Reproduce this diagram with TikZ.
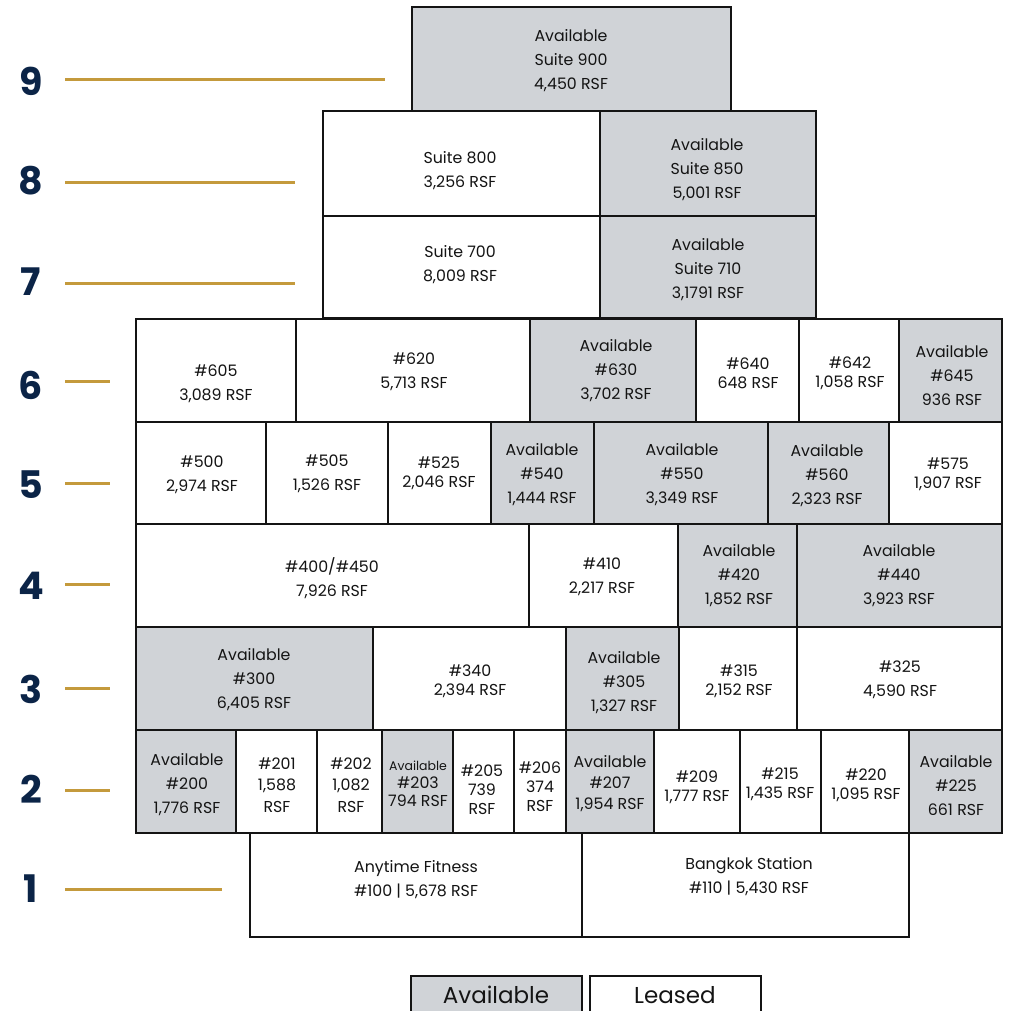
\documentclass[tikz,border=0pt]{standalone}
\usepackage{fontspec}
\setmainfont{Poppins}
\definecolor{availgray}{HTML}{D0D3D7}
\definecolor{navy}{HTML}{0B2447}
\definecolor{gold}{HTML}{C49A3C}
\definecolor{ink}{HTML}{141414}

\begin{document}
\begin{tikzpicture}[x=1pt,y=-1pt,
  leased/.style={draw=ink,line width=2pt,fill=white},
  avail/.style={leased,fill=availgray},
  lbl/.style={align=center,text=ink,inner sep=0pt,font=\fontsize{15.8}{24}\selectfont},
  tight/.style={lbl,font=\fontsize{15.8}{19}\selectfont},
  flr/.style={text=navy,inner sep=0pt,font=\fontsize{38}{38}\bfseries\selectfont},
  tick/.style={gold,line width=3pt},
  key/.style={text=ink,inner sep=0pt,font=\fontsize{23}{23}\selectfont}]
  \useasboundingbox (0,0) rectangle (1011,1010);

  % floor numbers and gold markers
  \foreach \n/\y/\ly/\xe in {9/81/79/385, 8/181/182/295, 7/282/283/295, 6/385/381/110,
      5/485/483/110, 4/586/584/110, 3/689/688/110, 2/789/790/110, 1/889/889/222} {
    \node[flr] (f\n) at (31,\y) {\n};
    \coordinate (ga\n) at (65,\ly);
    \coordinate (gb\n) at (\xe,\ly);
    \draw[tick] (ga\n) -- (gb\n);
  }

  % floor 9
  \draw[avail] (412,7) rectangle (731,111) node[lbl] (s900) at (571,61) {Available\\Suite 900\\4,450 RSF};
  % floor 8
  \draw[leased] (323,111) rectangle (600,216) node[lbl] (s800) at (460,171) {Suite 800\\3,256 RSF};
  \draw[avail] (600,111) rectangle (816,216) node[lbl] (s850) at (707,170) {Available\\Suite 850\\5,001 RSF};
  % floor 7
  \draw[leased] (323,216) rectangle (600,318) node[lbl] (s700) at (460,265) {Suite 700\\8,009 RSF};
  \draw[avail] (600,216) rectangle (816,318) node[lbl] (s710) at (708,270) {Available\\Suite 710\\3,1791 RSF};
  % floor 6
  \draw[leased] (136,319) rectangle (296,422) node[lbl] (s605) at (216,384) {\#605\\3,089 RSF};
  \draw[leased] (296,319) rectangle (530,422) node[lbl] (s620) at (414,372) {\#620\\5,713 RSF};
  \draw[avail] (530,319) rectangle (696,422) node[lbl] (s630) at (616,371) {Available\\\#630\\3,702 RSF};
  \draw[leased] (696,319) rectangle (799,422) node[tight] (s640) at (748,373) {\#640\\648 RSF};
  \draw[leased] (799,319) rectangle (899,422) node[tight] (s642) at (850,373) {\#642\\1,058 RSF};
  \draw[avail] (899,319) rectangle (1002,422) node[lbl] (s645) at (952,376) {Available\\\#645\\936 RSF};
  % floor 5
  \draw[leased] (136,422) rectangle (266,524) node[lbl] (s500) at (202,475) {\#500\\2,974 RSF};
  \draw[leased] (266,422) rectangle (388,524) node[lbl] (s505) at (327,474) {\#505\\1,526 RSF};
  \draw[leased] (388,422) rectangle (491,524) node[tight] (s525) at (439,473) {\#525\\2,046 RSF};
  \draw[avail] (491,422) rectangle (594,524) node[lbl] (s540) at (542,475) {Available\\\#540\\1,444 RSF};
  \draw[avail] (594,422) rectangle (768,524) node[lbl] (s550) at (682,475) {Available\\\#550\\3,349 RSF};
  \draw[avail] (768,422) rectangle (889,524) node[lbl] (s560) at (827,476) {Available\\\#560\\2,323 RSF};
  \draw[leased] (889,422) rectangle (1002,524) node[tight] (s575) at (948,474) {\#575\\1,907 RSF};
  % floor 4
  \draw[leased] (136,524) rectangle (529,627) node[lbl] (s400) at (332,578) {\#400/\#450\\7,926 RSF};
  \draw[leased] (529,524) rectangle (678,627) node[lbl] (s410) at (602,577) {\#410\\2,217 RSF};
  \draw[avail] (678,524) rectangle (797,627) node[lbl] (s420) at (739,576) {Available\\\#420\\1,852 RSF};
  \draw[avail] (797,524) rectangle (1002,627) node[lbl] (s440) at (899,576) {Available\\\#440\\3,923 RSF};
  % floor 3
  \draw[avail] (136,627) rectangle (373,730) node[lbl] (s300) at (254,680) {Available\\\#300\\6,405 RSF};
  \draw[leased] (373,627) rectangle (566,730) node[tight] (s340) at (470,681) {\#340\\2,394 RSF};
  \draw[avail] (566,627) rectangle (679,730) node[lbl] (s305) at (624,683) {Available\\\#305\\1,327 RSF};
  \draw[leased] (679,627) rectangle (797,730) node[tight] (s315) at (739,681) {\#315\\2,152 RSF};
  \draw[leased] (797,627) rectangle (1002,730) node[lbl] (s325) at (900,680) {\#325\\4,590 RSF};
  % floor 2
  \draw[avail] (136,730) rectangle (236,833) node[lbl] (s200) at (187,785) {Available\\\#200\\1,776 RSF};
  \draw[leased] (236,730) rectangle (317,833) node[lbl,font=\fontsize{15.8}{21.5}\selectfont] (s201) at (277,785) {\#201\\1,588\\RSF};
  \draw[leased] (317,730) rectangle (382,833) node[lbl,font=\fontsize{15.8}{21.5}\selectfont] (s202) at (351,785) {\#202\\1,082\\RSF};
  \draw[avail] (382,730) rectangle (453,833) node[tight,font=\fontsize{15.8}{18}\selectfont] (s203) at (418,784) {{\fontsize{12.5}{12}\selectfont Available}\\\#203\\794 RSF};
  \draw[leased] (453,730) rectangle (514,833) node[tight] (s205) at (482,790) {\#205\\739\\RSF};
  \draw[leased] (514,730) rectangle (566,833) node[tight] (s206) at (540,787) {\#206\\374\\RSF};
  \draw[avail] (566,730) rectangle (654,833) node[tight,font=\fontsize{15.8}{21}\selectfont] (s207) at (610,784) {Available\\\#207\\1,954 RSF};
  \draw[leased] (654,730) rectangle (740,833) node[tight] (s209) at (697,787) {\#209\\1,777 RSF};
  \draw[leased] (740,730) rectangle (821,833) node[tight] (s215) at (780,784) {\#215\\1,435 RSF};
  \draw[leased] (821,730) rectangle (909,833) node[tight] (s220) at (866,785) {\#220\\1,095 RSF};
  \draw[avail] (909,730) rectangle (1002,833) node[lbl] (s225) at (956,786) {Available\\\#225\\661 RSF};
  % floor 1
  \draw[leased] (250,833) rectangle (582,937) node[lbl] (s100) at (416,880) {Anytime Fitness\\\#100 | 5,678 RSF};
  \draw[leased] (582,833) rectangle (909,937) node[lbl] (s110) at (749,877) {Bangkok Station\\\#110 | 5,430 RSF};

  % legend
  \draw[avail] (411,976) rectangle (582,1016) node[key] (kavail) at (496,995) {Available};
  \draw[leased] (590,976) rectangle (761,1016) node[key] (klease) at (675,995) {Leased};
\end{tikzpicture}
\end{document}
